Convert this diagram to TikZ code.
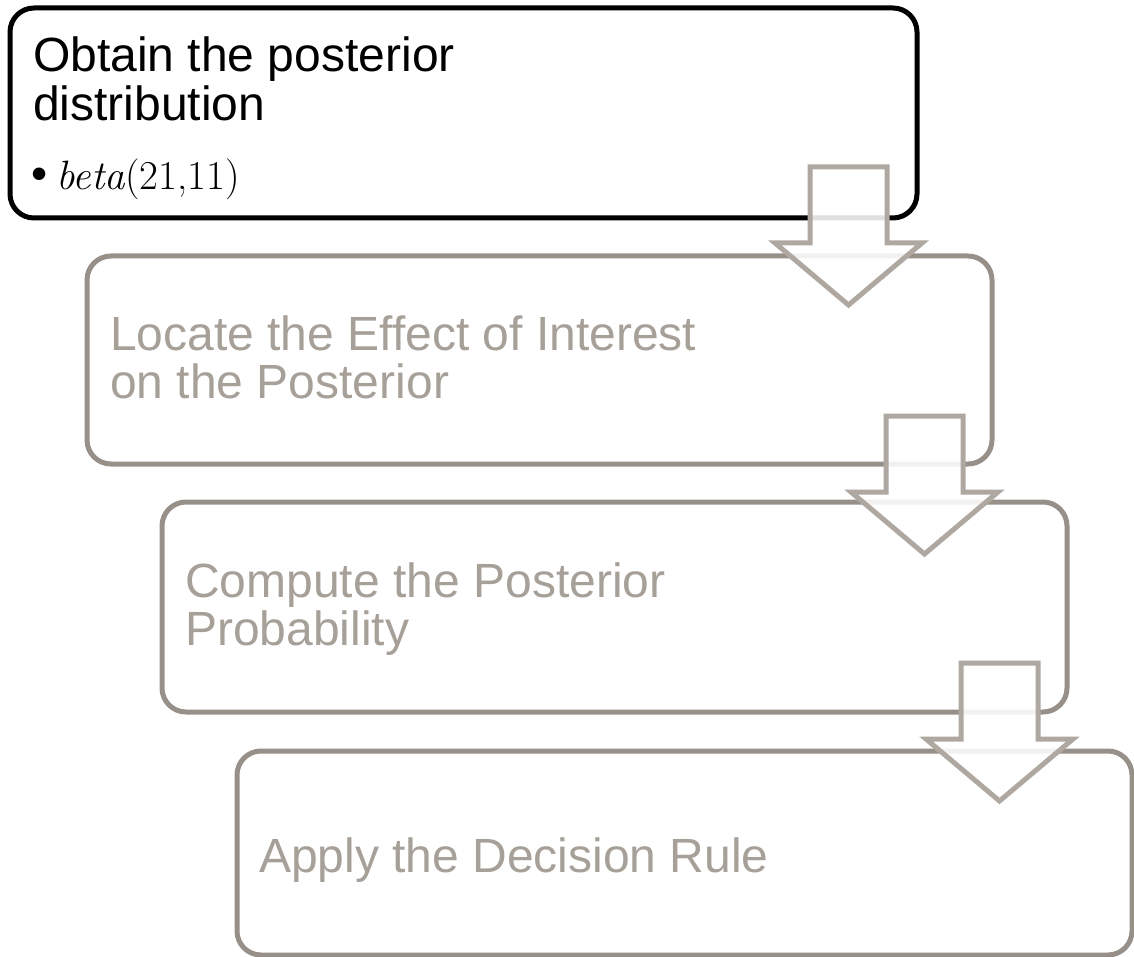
\documentclass[tikz,border=0pt]{standalone}
\usepackage{fontspec}
\setmainfont{Liberation Sans}
\newfontfamily\mathlike{Latin Modern Roman}
\definecolor{boxgrey}{RGB}{150,144,137}
\definecolor{txtgrey}{RGB}{166,160,152}
\definecolor{arrgrey}{RGB}{174,168,161}
\tikzset{
  box/.style={draw, rounded corners=24pt, line width=5pt, fill=white, inner sep=0pt},
  blackbox/.style={box, draw=black},
  greybox/.style={box, draw=boxgrey},
  lbl/.style={anchor=base west, inner sep=0pt, font=\fontsize{48}{48}\selectfont},
  greylbl/.style={lbl, text=txtgrey},
  bigarrow/.style={draw=arrgrey, line width=5pt, fill=white, fill opacity=0.88, line join=miter}
}
\begin{document}
\begin{tikzpicture}[x=1pt,y=-1pt]
\useasboundingbox (0,0) rectangle (1134,957);
% boxes
\node[blackbox, minimum width=907pt, minimum height=210pt] (b1) at (463.5,113) {};
\node[greybox, minimum width=905pt, minimum height=208pt] (b2) at (539.5,360) {};
\node[greybox, minimum width=905pt, minimum height=210pt] (b3) at (614.5,607) {};
\node[greybox, minimum width=895pt, minimum height=204pt] (b4) at (684.5,853) {};
% texts
\node[lbl] (t1a) at (33,72) {Obtain the posterior};
\node[lbl] (t1b) at (33,121) {distribution};
\node[anchor=base west, inner sep=0pt, font=\fontsize{46}{46}\selectfont] (t1d) at (31,190) {\textbullet};
\node[anchor=base west, inner sep=0pt, font=\mathlike\fontsize{41}{42}\selectfont] (t1c) at (56,190) {\textit{beta}(21,11)};
\node[greylbl] (t2a) at (110,350) {Locate the Effect of Interest};
\node[greylbl] (t2b) at (110,398) {on the Posterior};
\node[greylbl] (t3a) at (185,597) {Compute the Posterior};
\node[greylbl] (t3b) at (185,645) {Probability};
\node[greylbl] (t4a) at (259,872) {Apply the Decision Rule};
% arrows
\foreach \cx/\ty in {848.5/167, 924.5/416, 999.5/663}{
  \draw[bigarrow] ({\cx-38.5},{\ty}) -- ({\cx+38.5},{\ty}) -- ({\cx+38.5},{\ty+76})
    -- ({\cx+73.5},{\ty+76}) -- ({\cx},{\ty+138}) -- ({\cx-73.5},{\ty+76})
    -- ({\cx-38.5},{\ty+76}) -- cycle;
}
\end{tikzpicture}
\end{document}
